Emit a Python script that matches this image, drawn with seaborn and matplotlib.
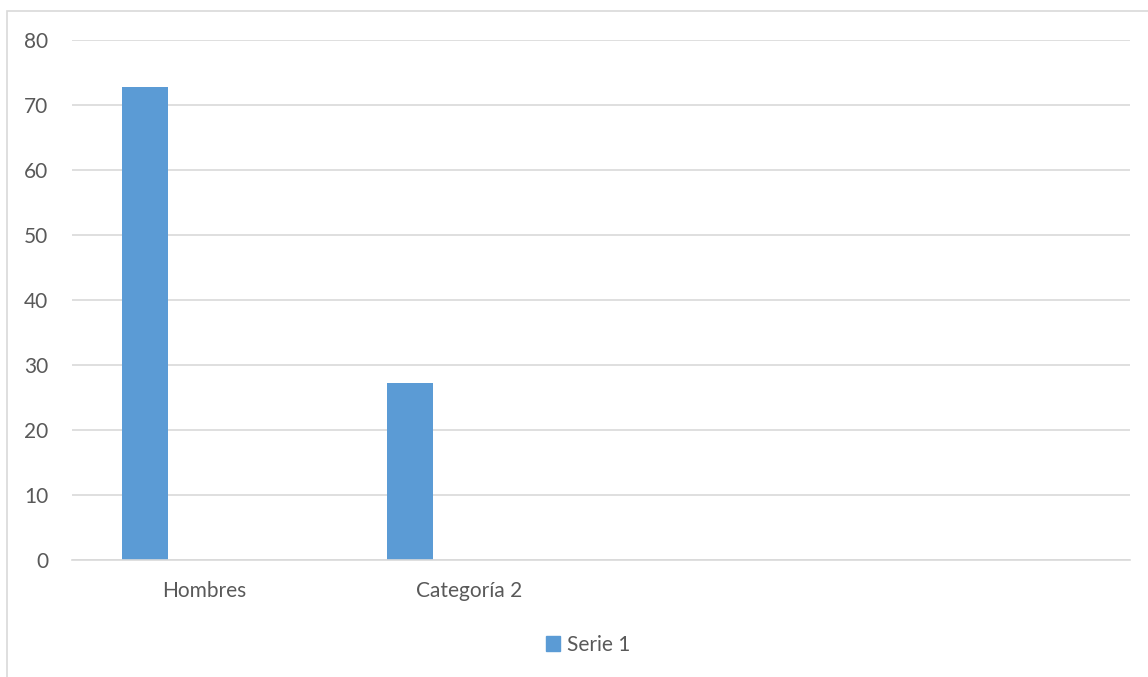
import pandas as pd
import seaborn as sns
import matplotlib.pyplot as plt
from matplotlib.patches import Rectangle, Patch

# datos del gráfico
categorias = ['Hombres', 'Categoría 2', 'Categoría 3', 'Categoría 4']
etiquetas_x = ['Hombres', 'Categoría 2', '', '']
series = ['Serie 1', 'Serie 2', 'Serie 3']
serie1 = [72.7, 27.3]
yticks = [0, 10, 20, 30, 40, 50, 60, 70, 80]

df = pd.DataFrame({'categoria': categorias[:len(serie1)],
                   'serie': series[0],
                   'valor': serie1})

sns.set_theme(style='white')
plt.rcParams['font.family'] = ['Lato', 'DejaVu Sans']

fig = plt.figure(figsize=(11.48, 6.77), dpi=100)
ax = fig.add_axes([72 / 1148, 1 - 560 / 677, (1130 - 72) / 1148, 520 / 677])

sns.barplot(data=df, x='categoria', y='valor', hue='serie', order=categorias,
            hue_order=series, palette=['#5B9BD5', '#ED7D31', '#A5A5A5'],
            width=0.67, gap=0.22, dodge=True, legend=False, ax=ax,
            saturation=1, linewidth=0)

ax.set_ylim(0, 80)
ax.set_yticks(yticks)
ax.set_xticks(range(len(categorias)))
ax.set_xticklabels(etiquetas_x)
ax.set_xlabel('')
ax.set_ylabel('')
ax.yaxis.grid(True, color='#D9D9D9', linewidth=1.2)
ax.set_axisbelow(True)
for s in ['left', 'right', 'top']:
    ax.spines[s].set_visible(False)
ax.spines['bottom'].set_color('#D9D9D9')
ax.spines['bottom'].set_linewidth(1.2)
ax.tick_params(axis='both', length=0, labelsize=15, colors='#595959')
ax.tick_params(axis='y', pad=17)
ax.tick_params(axis='x', pad=15)

# leyenda
fig.legend(handles=[Patch(color='#5B9BD5', label='Serie 1')], loc='center',
           bbox_to_anchor=(588 / 1148, 1 - 645 / 677), frameon=False,
           fontsize=15, labelcolor='#595959', handlelength=0.7, handleheight=0.7,
           handletextpad=0.3)

# borde del área del gráfico
fig.add_artist(Rectangle((7 / 1148, -0.05), 1.0, 1 - 11 / 677 + 0.05,
                         transform=fig.transFigure, fill=False,
                         edgecolor='#D9D9D9', linewidth=1.2))

plt.savefig('out.png', dpi=100)
